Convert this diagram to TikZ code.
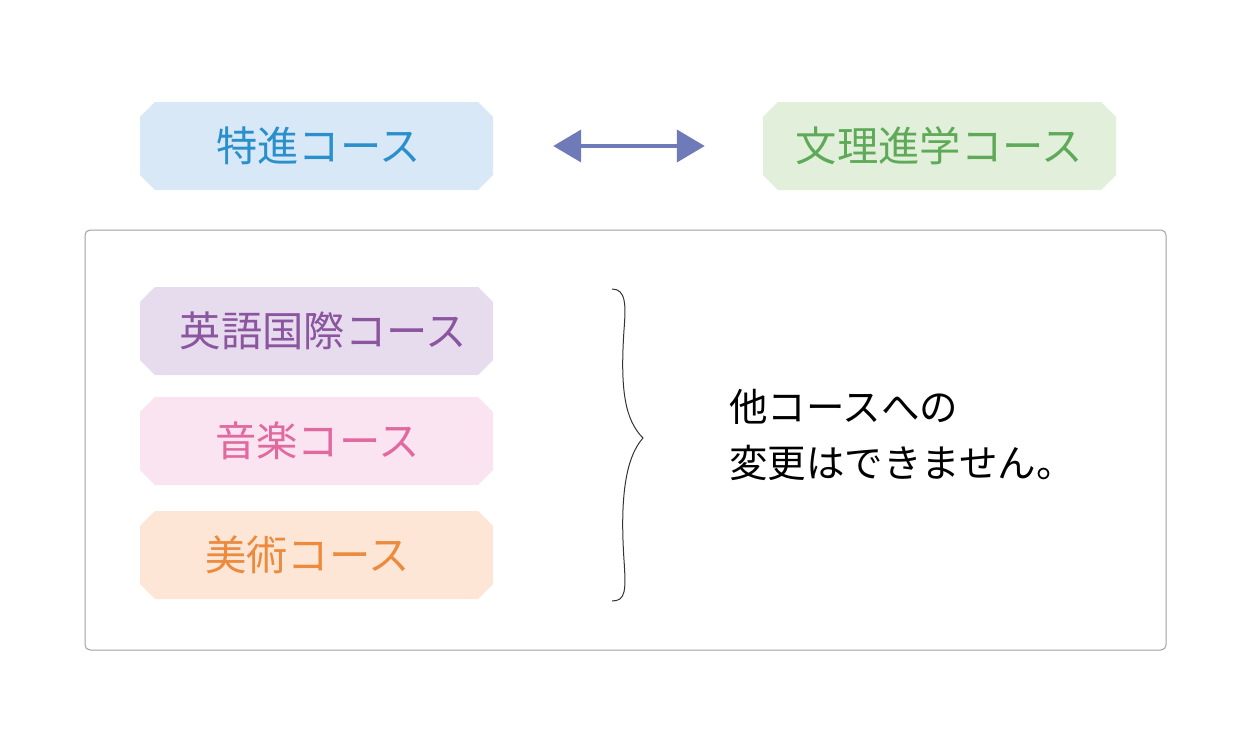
\documentclass[tikz,border=0pt]{standalone}
\usepackage{fontspec}
\newfontfamily\cjk{Noto Sans CJK JP}
\usetikzlibrary{shapes.misc,arrows.meta}
\definecolor{bluefill}{HTML}{D9E8F6}
\definecolor{bluetext}{HTML}{2A90CC}
\definecolor{greenfill}{HTML}{E2EFDB}
\definecolor{greentext}{HTML}{5FAA58}
\definecolor{purplefill}{HTML}{E7DCEE}
\definecolor{purpletext}{HTML}{8B55A0}
\definecolor{pinkfill}{HTML}{FAE4F1}
\definecolor{pinktext}{HTML}{E0699F}
\definecolor{orangefill}{HTML}{FDE6D5}
\definecolor{orangetext}{HTML}{EC8A3E}
\definecolor{arrowcol}{HTML}{6F7BB8}
\definecolor{framecol}{HTML}{A0A0A0}
\tikzset{
  course/.style={chamfered rectangle, chamfered rectangle xsep=12pt,
    minimum width=353pt, minimum height=88pt, inner sep=0pt, draw=none,
    font=\cjk\fontsize{41.3}{48}\selectfont},
  dblarrow/.style={arrowcol, line width=4pt,
    {Triangle[length=28pt,width=32pt]}-{Triangle[length=28pt,width=32pt]}},
  framebox/.style={draw=framecol, line width=1pt, rounded corners=5pt},
  bracestyle/.style={draw=black!80, line width=1pt},
  note/.style={anchor=west, align=left, inner sep=0pt,
    font=\cjk\fontsize{38.5}{56}\selectfont}
}
\begin{document}
\begin{tikzpicture}[x=1pt,y=-1pt]
\useasboundingbox (0,0) rectangle (1250,752);
\node[framebox, minimum width=1081pt, minimum height=420pt, inner sep=0pt] (frame) at (625.5,440) {};
\node[course, fill=bluefill, text=bluetext] (tokushin) at (316.5,146) {\hspace{4pt}特進コース};
\node[course, fill=greenfill, text=greentext] (bunri) at (939.5,146) {文理進学コース};
\draw[dblarrow, shorten <=60pt, shorten >=58pt] (tokushin.east) -- (bunri.west);
\node[course, fill=purplefill, text=purpletext] (eigo) at (316.5,331) {\hspace{14pt}英語国際コース};
\node[course, fill=pinkfill, text=pinktext] (ongaku) at (316.5,441) {\hspace{2pt}音楽コース};
\node[course, fill=orangefill, text=orangetext] (bijutsu) at (316.5,555) {\hspace{-18pt}美術コース};
\coordinate (btop) at (612,289);
\coordinate (btip) at (643,438);
\coordinate (bbot) at (612,601);
\draw[bracestyle] (btop) .. controls (626,289) and (626,305) .. (624,330)
  .. controls (620,390) and (625,420) .. (btip)
  .. controls (625,458) and (620,500) .. (624,560)
  .. controls (626,590) and (626,601) .. (bbot);
\node[note] (msg) at (729,435) {他コースへの\\変更はできません。};
\end{tikzpicture}
\end{document}
